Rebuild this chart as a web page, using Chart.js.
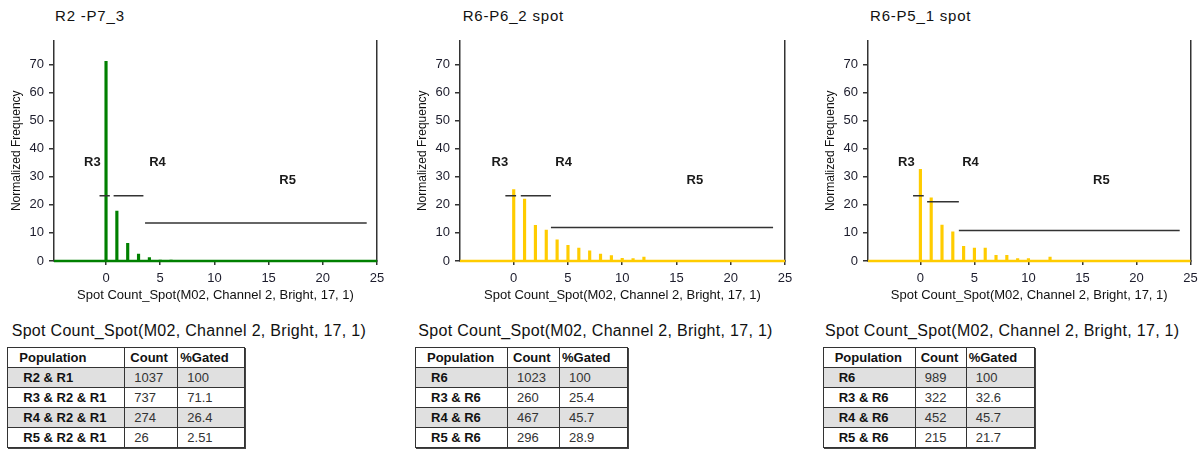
<!DOCTYPE html>
<html><head><meta charset="utf-8">
<script src="https://cdn.jsdelivr.net/npm/chart.js@4.4.0/dist/chart.umd.min.js"></script>
<style>
html,body{margin:0;padding:0;background:#fff;width:1203px;height:451px;overflow:hidden;font-family:"Liberation Sans",Arial,sans-serif;}
canvas{position:absolute;top:0;}
.ct{position:absolute;top:7px;font-size:15px;letter-spacing:0.8px;color:#111;line-height:18px;white-space:nowrap;}
.tt{position:absolute;top:321px;font-size:16px;letter-spacing:0.3px;color:#111;line-height:19px;white-space:nowrap;}
table{position:absolute;top:347px;border-collapse:collapse;table-layout:fixed;font-size:13px;color:#111;box-shadow:1px 1px 0 #444;}
td,th{border:1px solid #333;height:19px;padding:0;text-align:left;white-space:nowrap;overflow:hidden;line-height:15px;}
th{font-weight:bold;background:#fff;}
td.pop{font-weight:bold;}
td.num{font-weight:normal;color:#333;}
tr.shade td{background:#e0e0e0;}
</style>
</head><body>
<div id="root"></div>
<script>
// ---------- data ----------
const spotCounts = [0,1,2,3,4,5,6,7,8,9,10,11,12];
const freqR2P7_3 = [71.1,17.8,6.3,2.5,1.2,0.35,0.3,0.2,0.15,0.1,0.1,0.05,0];
const freqR6P6_2 = [25.4,22.0,12.7,11.0,7.5,5.6,4.6,3.6,2.5,1.9,0.95,0.9,1.4];
const freqR6P5_1 = [32.6,22.5,12.8,10.4,5.2,4.6,4.6,2.0,2.0,0.9,0.9,0.2,1.4];

const chartTitles = ["R2 -P7_3","R6-P6_2 spot","R6-P5_1 spot"];
const xAxisTitle = "Spot Count_Spot(M02, Channel 2, Bright, 17, 1)";
const yAxisTitle = "Normalized Frequency";
const xTickValues = [0,5,10,15,20,25];
const yTickValues = [0,10,20,30,40,50,60,70];
const xMins = [-4.8,-4.95,-4.85];
const xMax = 25;
const yMax = 78.5;

const gateNames = ["R3","R4","R5"];
const gateStarts1 = [-0.6,0.7,3.6];
const gateEnds1 = [0.35,3.45,24.05];
const gateLevels1 = [23.2,23.2,13.5];
const gateStarts2 = [-0.77,0.65,3.43];
const gateEnds2 = [0.22,3.43,23.9];
const gateLevels2 = [23.2,23.2,11.9];
const gateStarts3 = [-0.68,0.62,3.56];
const gateEnds3 = [0.31,3.56,24.0];
const gateLevels3 = [23.2,21.1,10.9];
const labelX1 = [-1.26,4.75,16.75];
const labelX2 = [-1.27,4.6,16.7];
const labelX3 = [-1.3,4.64,16.75];
const labelY = [35,35,28.8];

const tableTitle = "Spot Count_Spot(M02, Channel 2, Bright, 17, 1)";
const tableHeaders = ["Population","Count","%Gated"];
const populations1 = ["R2 & R1","R3 & R2 & R1","R4 & R2 & R1","R5 & R2 & R1"];
const counts1 = ["1037","737","274","26"];
const gated1 = ["100","71.1","26.4","2.51"];
const populations2 = ["R6","R3 & R6","R4 & R6","R5 & R6"];
const counts2 = ["1023","260","467","296"];
const gated2 = ["100","25.4","45.7","28.9"];
const populations3 = ["R6","R3 & R6","R4 & R6","R5 & R6"];
const counts3 = ["989","322","452","215"];
const gated3 = ["100","32.6","45.7","21.7"];

// ---------- layout ----------
const FAM = '"Liberation Sans", Arial, sans-serif';
const panels = [
  {canvasLeft:0, padRight:23, titleLeft:55, ttLeft:11.7, tableLeft:7.3, cols:[117,53,67], color:'#008000',
   values:freqR2P7_3, gs:gateStarts1, ge:gateEnds1, gl:gateLevels1, lx:labelX1,
   pops:populations1, counts:counts1, gated:gated1},
  {canvasLeft:406, padRight:21, titleLeft:462.7, ttLeft:418.3, tableLeft:415, cols:[92,52,68], color:'#FFCC00',
   values:freqR6P6_2, gs:gateStarts2, ge:gateEnds2, gl:gateLevels2, lx:labelX2,
   pops:populations2, counts:counts2, gated:gated2},
  {canvasLeft:814, padRight:23.5, titleLeft:870, ttLeft:825, tableLeft:822.7, cols:[92,51,68], color:'#FFCC00',
   values:freqR6P5_1, gs:gateStarts3, ge:gateEnds3, gl:gateLevels3, lx:labelX3,
   pops:populations3, counts:counts3, gated:gated3}
];

const gateLabelPlugin = {
  id:'gateLabels',
  afterDatasetsDraw(chart, args, opts){
    const {ctx, scales:{x,y}} = chart;
    ctx.save();
    ctx.font = 'bold 13px ' + FAM;
    ctx.fillStyle = '#1a1a1a';
    ctx.textAlign = 'center';
    ctx.textBaseline = 'middle';
    opts.names.forEach((n,i)=>ctx.fillText(n, x.getPixelForValue(opts.xs[i]), y.getPixelForValue(opts.ys[i])));
    ctx.restore();
  }
};

const root = document.getElementById('root');
panels.forEach((p, idx) => {
  const t = document.createElement('div');
  t.className = 'ct'; t.style.left = p.titleLeft + 'px'; t.textContent = chartTitles[idx];
  root.appendChild(t);

  const cv = document.createElement('canvas');
  cv.width = 400; cv.height = 310;
  cv.style.left = p.canvasLeft + 'px';
  root.appendChild(cv);

  const xMin = xMins[idx];
  const datasets = [];
  datasets.push({type:'bar', data:spotCounts.map((c,i)=>({x:c,y:p.values[i]})),
    backgroundColor:p.color, borderWidth:0, barThickness:2.5, order:2});
  datasets.push({type:'line', data:[{x:xMin,y:0},{x:xMax,y:0}], borderColor:p.color,
    borderWidth:2.5, pointRadius:0, clip:false, order:1});
  p.gs.forEach((s,i)=>datasets.push({type:'line', data:[{x:s,y:p.gl[i]},{x:p.ge[i],y:p.gl[i]}],
    borderColor:'#333', borderWidth:1.5, pointRadius:0, order:0}));

  new Chart(cv, {
    type:'bar',
    data:{datasets},
    plugins:[gateLabelPlugin],
    options:{
      responsive:false, animation:false, events:[],
      layout:{padding:{left:0, top:40.5, right:p.padRight, bottom:0}},
      plugins:{legend:{display:false}, tooltip:{enabled:false},
        gateLabels:{names:gateNames, xs:p.lx, ys:labelY}},
      scales:{
        x:{type:'linear', min:xMin, max:xMax, offset:false,
          afterBuildTicks:a=>{a.ticks = xTickValues.map(v=>({value:v}));},
          afterFit:a=>{a.height = 49;},
          grid:{offset:false, drawOnChartArea:false, drawTicks:true, tickLength:4, color:'#333', lineWidth:1.5},
          border:{display:true, color:'#333', width:1.5},
          ticks:{padding:6, color:'#1c1c2c', font:{size:13, family:FAM}},
          title:{display:true, text:xAxisTitle, color:'#111', font:{size:13, family:FAM}, padding:{top:0, bottom:7}}
        },
        y:{type:'linear', position:'left', min:0, max:yMax,
          afterBuildTicks:a=>{a.ticks = yTickValues.map(v=>({value:v}));},
          afterFit:a=>{a.width = 54;},
          grid:{drawOnChartArea:false, drawTicks:true, tickLength:5, color:'#333', lineWidth:1.5},
          border:{display:true, color:'#333', width:1.5},
          ticks:{padding:5, color:'#1c1c2c', font:{size:13, family:FAM}},
          title:{display:true, text:yAxisTitle, color:'#111', font:{size:12, family:FAM}, padding:{top:9.5, bottom:0}}
        },
        y2:{type:'linear', position:'right', min:0, max:1,
          afterFit:a=>{a.width = 0;},
          ticks:{display:false}, grid:{display:false},
          border:{display:true, color:'#333', width:1.5}
        }
      }
    }
  });

  const tt = document.createElement('div');
  tt.className = 'tt'; tt.style.left = p.ttLeft + 'px'; tt.textContent = tableTitle;
  root.appendChild(tt);

  const tb = document.createElement('table');
  tb.style.left = p.tableLeft + 'px';
  tb.style.width = (p.cols[0]+p.cols[1]+p.cols[2]) + 'px';
  const cg = document.createElement('colgroup');
  p.cols.forEach(w=>{const c=document.createElement('col'); c.style.width=w+'px'; cg.appendChild(c);});
  tb.appendChild(cg);
  const hr = document.createElement('tr');
  const hpad = [11,5,2];
  tableHeaders.forEach((h,i)=>{const th=document.createElement('th'); th.textContent=h; th.style.paddingLeft=hpad[i]+'px'; hr.appendChild(th);});
  tb.appendChild(hr);
  p.pops.forEach((pop,r)=>{
    const tr = document.createElement('tr');
    if (r % 2 === 0) tr.className = 'shade';
    const cells = [pop, p.counts[r], p.gated[r]];
    const pads = [15,9,9];
    cells.forEach((v,i)=>{const td=document.createElement('td'); td.textContent=v; td.className = i===0?'pop':'num'; td.style.paddingLeft=pads[i]+'px'; tr.appendChild(td);});
    tb.appendChild(tr);
  });
  root.appendChild(tb);
});
</script>
</body></html>
